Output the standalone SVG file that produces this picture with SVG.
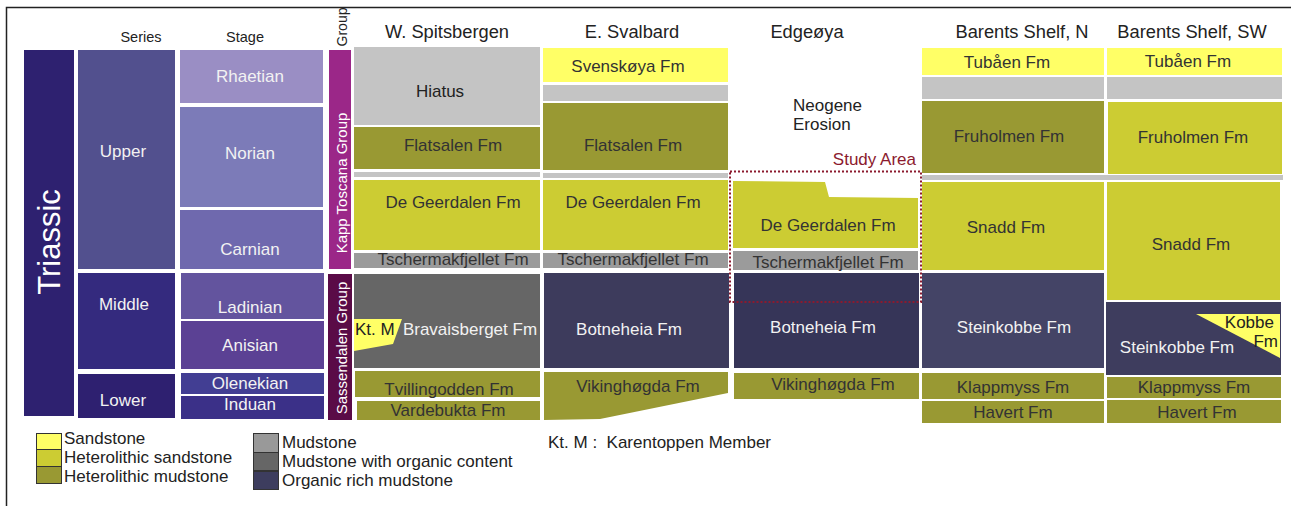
<svg xmlns="http://www.w3.org/2000/svg" width="1291" height="506" viewBox="0 0 1291 506">
<style>
text{font-family:"Liberation Sans",Arial,sans-serif;}
.hd{font-size:18.3px;fill:#222;text-anchor:middle;}
.sm{font-size:14.5px;fill:#222;text-anchor:middle;}
.w{font-size:17px;fill:#f2f2f2;text-anchor:middle;}
.d{font-size:17px;fill:#333;text-anchor:middle;}
.lg{font-size:17px;fill:#222;}
.ys{fill:#ffff66;}
.hs{fill:#cccc33;}
.hm{fill:#999933;}
.lgr{fill:#c4c4c4;}
.mg{fill:#9b9b9b;}
.dg{fill:#666666;}
.sw{stroke:#333;stroke-width:1;}
</style>
<rect x="0" y="0" width="1291" height="506" fill="#fff"/>
<path d="M6.5,506 V7.5 H1291" fill="none" stroke="#222" stroke-width="1.5"/>

<g id="headers">
<text class="sm" x="141" y="42">Series</text>
<text class="sm" x="245" y="42">Stage</text>
<text class="sm" transform="translate(347,27) rotate(-90)" x="0" y="0" style="font-size:14px">Group</text>
<text class="hd" x="447" y="38">W. Spitsbergen</text>
<text class="hd" x="632" y="38">E. Svalbard</text>
<text class="hd" x="807" y="38">Edgeøya</text>
<text class="hd" x="1022" y="38">Barents Shelf, N</text>
<text class="hd" x="1192" y="38">Barents Shelf, SW</text>
</g>

<g id="triassic"><rect x="24" y="50" width="50" height="366" fill="#2e2170"/>
<text transform="translate(60,242) rotate(-90)" x="0" y="0" style="font-size:31px;fill:#fff;text-anchor:middle">Triassic</text></g>

<g id="series-upper"><rect x="78" y="50" width="97" height="219" fill="#52508e"/><text class="w" x="123" y="157">Upper</text></g>
<g id="series-middle"><rect x="78" y="273" width="97" height="96" fill="#342a7e"/><text class="w" x="124" y="310">Middle</text></g>
<g id="series-lower"><rect x="78" y="374" width="97" height="44" fill="#2e2070"/><text class="w" x="123" y="406">Lower</text></g>

<g id="stage-rhaetian"><rect x="180" y="50" width="143" height="53" fill="#9a8ec4"/><text class="w" x="250" y="82">Rhaetian</text></g>
<g id="stage-norian"><rect x="180" y="107" width="143" height="100" fill="#7c7bb8"/><text class="w" x="250" y="159">Norian</text></g>
<g id="stage-carnian"><rect x="180" y="210" width="143" height="59" fill="#6f69ae"/><text class="w" x="250" y="255">Carnian</text></g>
<g id="stage-ladinian"><rect x="181" y="273" width="143" height="46" fill="#63549e"/><text class="w" x="250" y="313">Ladinian</text></g>
<g id="stage-anisian"><rect x="181" y="321" width="143" height="48" fill="#5b4194"/><text class="w" x="250" y="351">Anisian</text></g>
<g id="stage-olenekian"><rect x="181" y="373" width="143" height="21" fill="#423e93"/><text class="w" x="250" y="389">Olenekian</text></g>
<g id="stage-induan"><rect x="181" y="396" width="143" height="23" fill="#3b3088"/><text class="w" x="250" y="410">Induan</text></g>

<g id="group-kapp"><rect x="329" y="50" width="22" height="219" fill="#9b2788"/>
<text transform="translate(347,183) rotate(-90)" x="0" y="0" style="font-size:15px;fill:#fff;text-anchor:middle">Kapp Toscana Group</text></g>
<g id="group-sassendalen"><rect x="328" y="274" width="24" height="146" fill="#5a0b47"/>
<text transform="translate(347,348) rotate(-90)" x="0" y="0" style="font-size:15px;fill:#fff;text-anchor:middle">Sassendalen Group</text></g>

<g id="w-spitsbergen">
<g id="ws-hiatus"><rect class="lgr" x="354" y="47" width="186" height="78"/><text class="d" x="440" y="97" style="fill:#222">Hiatus</text></g>
<g id="ws-flatsalen"><rect class="hm" x="354" y="127" width="186" height="42"/><text class="d" x="453" y="151">Flatsalen Fm</text></g>
<rect class="lgr" x="354" y="172" width="186" height="5"/>
<g id="ws-degeerdalen"><rect class="hs" x="354" y="180" width="186" height="70"/><text class="d" x="453" y="208">De Geerdalen Fm</text></g>
<g id="ws-tscherm"><rect class="mg" x="354" y="253" width="186" height="15"/><text class="d" x="453" y="265">Tschermakfjellet Fm</text></g>
<g id="ws-bravais"><rect class="dg" x="354" y="274" width="186" height="94"/><text class="w" x="470" y="335">Bravaisberget Fm</text></g>
<g id="ws-ktm"><polygon class="ys" points="354,319 402,319 393,344 354,351"/><text class="d" x="355" y="335" style="text-anchor:start;fill:#222">Kt. M</text></g>
<g id="ws-tvilling"><rect class="hm" x="355" y="371" width="185" height="26"/><text class="d" x="449" y="395">Tvillingodden Fm</text></g>
<g id="ws-vardebukta"><rect class="hm" x="357" y="401" width="183" height="19"/><text class="d" x="448" y="416">Vardebukta Fm</text></g>
</g>

<g id="e-svalbard">
<g id="es-svenskoya"><rect class="ys" x="543" y="48" width="185" height="34"/><text class="d" x="628" y="72">Svenskøya Fm</text></g>
<rect class="lgr" x="543" y="85" width="185" height="16"/>
<g id="es-flatsalen"><rect class="hm" x="543" y="103" width="185" height="67"/><text class="d" x="633" y="151">Flatsalen Fm</text></g>
<rect class="lgr" x="543" y="173" width="185" height="5"/>
<g id="es-degeerdalen"><rect class="hs" x="543" y="180" width="185" height="70"/><text class="d" x="633" y="208">De Geerdalen Fm</text></g>
<g id="es-tscherm"><rect class="mg" x="543" y="253" width="185" height="15"/><text class="d" x="633" y="265">Tschermakfjellet Fm</text></g>
<g id="es-botneheia"><rect x="544" y="273" width="185" height="95" fill="#3d3b5c"/><text class="w" x="629" y="335">Botneheia Fm</text></g>
<g id="es-viking"><polygon class="hm" points="544,372 728,372 728,393 600,419 544,420"/><text class="d" x="638" y="392">Vikinghøgda Fm</text></g>
</g>

<g id="edgeoya">
<g id="eg-erosion"><text class="d" x="793" y="111" style="text-anchor:start;fill:#222">Neogene</text><text class="d" x="793" y="130" style="text-anchor:start;fill:#222">Erosion</text></g>
<g id="eg-degeerdalen"><polygon class="hs" points="733,181 825,182 829,197 918,198 918,248 733,248"/><text class="d" x="828" y="231">De Geerdalen Fm</text></g>
<g id="eg-tscherm"><rect class="mg" x="733" y="251" width="185" height="19"/><text class="d" x="828" y="268">Tschermakfjellet Fm</text></g>
<g id="eg-botneheia"><rect x="734" y="273" width="185" height="95" fill="#363558"/><text class="w" x="823" y="333">Botneheia Fm</text></g>
<g id="eg-viking"><rect class="hm" x="734" y="373" width="185" height="26"/><text class="d" x="833" y="390">Vikinghøgda Fm</text></g>
<g id="study-area"><rect x="730" y="171.5" width="191" height="130.5" fill="none" stroke="#8b1a2e" stroke-width="2" stroke-dasharray="2,2"/>
<text x="916" y="165" style="font-size:17px;fill:#8b1a2e;text-anchor:end">Study Area</text></g>
</g>

<g id="barents-n">
<g id="bn-tubaen"><rect class="ys" x="922" y="48" width="182" height="27"/><text class="d" x="1007" y="68">Tubåen Fm</text></g>
<rect class="lgr" x="922" y="77" width="182" height="22"/>
<g id="bn-fruholmen"><rect class="hm" x="922" y="101" width="182" height="72"/><text class="d" x="1009" y="142">Fruholmen Fm</text></g>
<rect class="lgr" x="922" y="175" width="361" height="5"/>
<g id="bn-snadd"><rect class="hs" x="922" y="182" width="182" height="88"/><text class="d" x="1006" y="233">Snadd Fm</text></g>
<g id="bn-steinkobbe"><rect x="922" y="273" width="182" height="95" fill="#444466"/><text class="w" x="1014" y="333">Steinkobbe Fm</text></g>
<g id="bn-klappmyss"><rect class="hm" x="922" y="373" width="182" height="26"/><text class="d" x="1013" y="393">Klappmyss Fm</text></g>
<g id="bn-havert"><rect class="hm" x="922" y="401" width="182" height="22"/><text class="d" x="1013" y="418">Havert Fm</text></g>
</g>

<g id="barents-sw">
<g id="bs-tubaen"><rect class="ys" x="1107" y="48" width="175" height="27"/><text class="d" x="1188" y="67">Tubåen Fm</text></g>
<rect class="lgr" x="1107" y="77" width="175" height="22"/>
<g id="bs-fruholmen"><rect class="hs" x="1108" y="102" width="174" height="72"/><text class="d" x="1193" y="143">Fruholmen Fm</text></g>
<g id="bs-snadd"><rect class="hs" x="1107" y="182" width="173" height="118"/><text class="d" x="1191" y="250">Snadd Fm</text></g>
<g id="bs-steinkobbe"><rect x="1106" y="302" width="175" height="73" fill="#3e3d5e"/><text class="w" x="1177" y="353">Steinkobbe Fm</text></g>
<g id="bs-kobbe"><polygon class="ys" points="1196,314 1280,314 1280,358"/><text class="d" x="1274" y="328" style="text-anchor:end;fill:#222">Kobbe</text><text class="d" x="1278" y="347" style="text-anchor:end;fill:#222">Fm</text></g>
<g id="bs-klappmyss"><rect class="hm" x="1107" y="377" width="174" height="21"/><text class="d" x="1194" y="393">Klappmyss Fm</text></g>
<g id="bs-havert"><rect class="hm" x="1107" y="400" width="174" height="23"/><text class="d" x="1197" y="418">Havert Fm</text></g>
</g>

<g id="legend">
<rect class="ys sw" x="36.5" y="433.5" width="25" height="16"/>
<rect class="hs sw" x="36.5" y="449.5" width="25" height="17"/>
<rect class="hm sw" x="36.5" y="466.5" width="25" height="17"/>
<text class="lg" x="64" y="444">Sandstone</text>
<text class="lg" x="64" y="463">Heterolithic sandstone</text>
<text class="lg" x="64" y="482">Heterolithic mudstone</text>
<rect class="sw" x="253.5" y="433.5" width="25" height="19" fill="#999999"/>
<rect class="sw" x="253.5" y="452.5" width="25" height="18" fill="#666666"/>
<rect class="sw" x="253.5" y="471.5" width="25" height="18" fill="#3d3d5e"/>
<text class="lg" x="282" y="448">Mudstone</text>
<text class="lg" x="282" y="467">Mudstone with organic content</text>
<text class="lg" x="282" y="486">Organic rich mudstone</text>
<text class="lg" x="548" y="448">Kt. M :&#160; Karentoppen Member</text>
</g>
</svg>
